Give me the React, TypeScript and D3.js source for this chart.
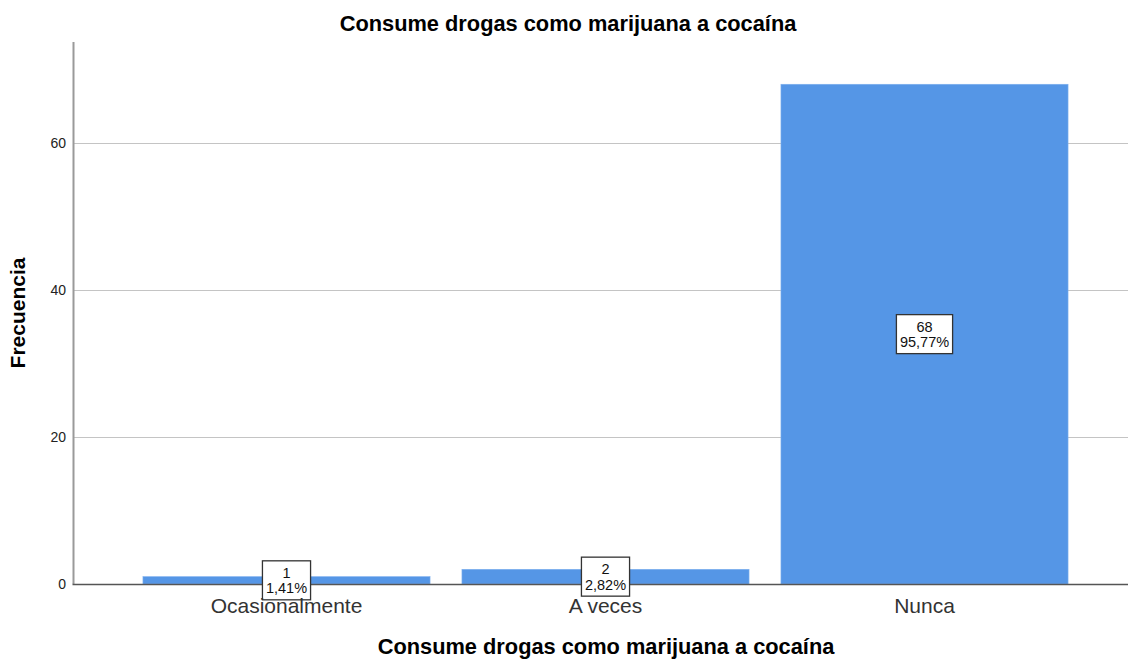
import React, { useEffect, useRef } from "react";
import * as d3 from "d3";

// Response categories and their frequencies
const categories: string[] = ["Ocasionalmente", "A veces", "Nunca"];
const counts: number[] = [1, 2, 68];
const percents: string[] = ["1,41%", "2,82%", "95,77%"];
const yTicks: number[] = [0, 20, 40, 60];

const chartTitle = "Consume drogas como marijuana a cocaína";
const xTitle = "Consume drogas como marijuana a cocaína";
const yTitle = "Frecuencia";

const W = 1128;
const H = 661;
const FONT = "'Liberation Sans', Arial, Helvetica, sans-serif";

export default function App() {
  const ref = useRef<SVGSVGElement | null>(null);

  useEffect(() => {
    const svg = d3.select(ref.current);
    svg.selectAll("*").remove();

    const axisX = 73.5;
    const baseY = 584;
    const topY = 42;

    const x = d3
      .scaleBand<string>()
      .domain(categories)
      .range([127, 1084])
      .paddingInner(0.1)
      .paddingOuter(0.05);

    const y = d3.scaleLinear().domain([0, 73.75]).range([baseY, topY]);

    // gridlines
    svg
      .append("g")
      .selectAll("line")
      .data(yTicks.filter((t) => t > 0))
      .join("line")
      .attr("x1", axisX)
      .attr("x2", W)
      .attr("y1", (d) => Math.round(y(d)) + 0.5)
      .attr("y2", (d) => Math.round(y(d)) + 0.5)
      .attr("stroke", "#c4c4c4")
      .attr("stroke-width", 1.2);

    // y tick labels
    svg
      .append("g")
      .selectAll("text")
      .data(yTicks)
      .join("text")
      .attr("x", 66)
      .attr("y", (d) => y(d) + 5)
      .attr("text-anchor", "end")
      .attr("font-family", FONT)
      .attr("font-size", 14)
      .attr("fill", "#222")
      .text((d) => d3.format("d")(d));

    // bars
    svg
      .append("g")
      .selectAll("rect")
      .data(counts)
      .join("rect")
      .attr("x", (_, i) => x(categories[i])!)
      .attr("width", x.bandwidth())
      .attr("y", (d) => y(d))
      .attr("height", (d) => baseY - y(d))
      .attr("fill", "#5596e6")
      .attr("stroke", "#7fb0ee")
      .attr("stroke-width", 0.6);

    // y axis line
    svg
      .append("line")
      .attr("x1", axisX)
      .attr("x2", axisX)
      .attr("y1", topY)
      .attr("y2", baseY)
      .attr("stroke", "#9a9a9a")
      .attr("stroke-width", 2);

    // x baseline
    svg
      .append("line")
      .attr("x1", axisX - 1)
      .attr("x2", W)
      .attr("y1", baseY + 0.5)
      .attr("y2", baseY + 0.5)
      .attr("stroke", "#555")
      .attr("stroke-width", 1.6);

    // value labels
    const labels = svg
      .append("g")
      .selectAll("g")
      .data(counts)
      .join("g")
      .attr("transform", (d, i) => {
        const cx = x(categories[i])! + x.bandwidth() / 2;
        const cy = (y(d) + baseY) / 2;
        return `translate(${cx},${cy})`;
      });

    const boxes = labels.append("rect");
    const t1 = labels
      .append("text")
      .attr("y", -2.5)
      .attr("text-anchor", "middle")
      .attr("font-family", FONT)
      .attr("font-size", 14.5)
      .attr("fill", "#111")
      .text((d) => String(d));
    const t2 = labels
      .append("text")
      .attr("y", 13)
      .attr("text-anchor", "middle")
      .attr("font-family", FONT)
      .attr("font-size", 14.5)
      .attr("fill", "#111")
      .text((_, i) => percents[i]);

    boxes.each(function (_, i) {
      const w1 = (t1.nodes()[i] as SVGTextElement).getComputedTextLength();
      const w2 = (t2.nodes()[i] as SVGTextElement).getComputedTextLength();
      const w = Math.max(w1, w2) + 7;
      d3.select(this)
        .attr("x", -w / 2)
        .attr("y", -19.5)
        .attr("width", w)
        .attr("height", 39)
        .attr("fill", "#fff")
        .attr("stroke", "#333")
        .attr("stroke-width", 1.3);
    });

    // category labels
    svg
      .append("g")
      .selectAll("text")
      .data(categories)
      .join("text")
      .attr("x", (d) => x(d)! + x.bandwidth() / 2)
      .attr("y", 613)
      .attr("text-anchor", "middle")
      .attr("font-family", FONT)
      .attr("font-size", 21)
      .attr("fill", "#333")
      .text((d) => d);

    // titles
    svg
      .append("text")
      .attr("x", 568)
      .attr("y", 31)
      .attr("text-anchor", "middle")
      .attr("font-family", FONT)
      .attr("font-size", 21.8)
      .attr("font-weight", "bold")
      .attr("fill", "#000")
      .text(chartTitle);

    svg
      .append("text")
      .attr("x", 606)
      .attr("y", 654)
      .attr("text-anchor", "middle")
      .attr("font-family", FONT)
      .attr("font-size", 21.8)
      .attr("font-weight", "bold")
      .attr("fill", "#000")
      .text(xTitle);

    svg
      .append("text")
      .attr("transform", `translate(25,313) rotate(-90)`)
      .attr("text-anchor", "middle")
      .attr("font-family", FONT)
      .attr("font-size", 21)
      .attr("font-weight", "bold")
      .attr("fill", "#000")
      .text(yTitle);
  }, []);

  return (
    <svg
      ref={ref}
      width={W}
      height={H}
      style={{ position: "fixed", left: 0, top: 0, background: "#fff", display: "block" }}
    />
  );
}
